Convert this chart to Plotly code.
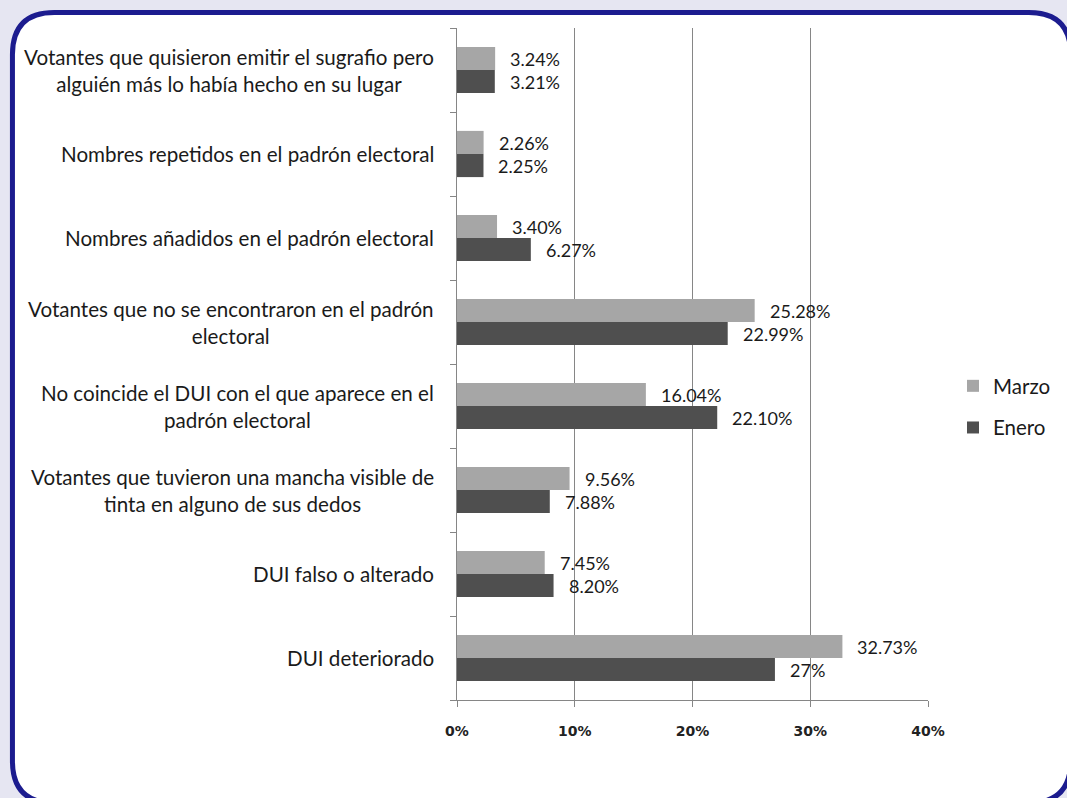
import plotly.graph_objects as go

categories = [
    "Votantes que quisieron emitir el sugrafio pero<br>alguién más lo había hecho en su lugar",
    "Nombres repetidos en el padrón electoral",
    "Nombres añadidos en el padrón electoral",
    "Votantes que no se encontraron en el padrón<br>electoral",
    "No coincide el DUI con el que aparece en el<br>padrón electoral",
    "Votantes que tuvieron una mancha visible de<br>tinta en alguno de sus dedos",
    "DUI falso o alterado",
    "DUI deteriorado",
]
marzo = [3.24, 2.26, 3.40, 25.28, 16.04, 9.56, 7.45, 32.73]
enero = [3.21, 2.25, 6.27, 22.99, 22.10, 7.88, 8.20, 27]
x_ticks = [0, 10, 20, 30, 40]
x_tick_text = ["0%", "10%", "20%", "30%", "40%"]

W, H = 1067, 798
L, R, T, B = 457, 929, 28, 700  # plot area in pixels


def px(xp):
    return (xp - L) / (R - L)


def py(yp):
    return (B - yp) / (B - T)


def fmt(v):
    return f"{int(v)}%" if float(v).is_integer() else f"{v:.2f}%"


C_MARZO = "#a6a6a6"
C_ENERO = "#4f4f4f"
LABEL_FONT = "Lato"

fig = go.Figure()
fig.add_trace(go.Bar(name="Enero", y=categories, x=enero, orientation="h",
                     marker=dict(color=C_ENERO, line=dict(width=0)),
                     legendgroup="e", legendrank=2))
fig.add_trace(go.Bar(name="Marzo", y=categories, x=marzo, orientation="h",
                     marker=dict(color=C_MARZO, line=dict(width=0)),
                     legendgroup="m", legendrank=1))

annotations = []
for c, v in zip(categories, marzo):
    annotations.append(dict(x=v, y=c, xref="x", yref="y", text=fmt(v), showarrow=False,
                            xanchor="left", yanchor="middle", xshift=13, yshift=11,
                            font=dict(family=LABEL_FONT, size=18, color="#1a1a1a")))
for c, v in zip(categories, enero):
    annotations.append(dict(x=v, y=c, xref="x", yref="y", text=fmt(v), showarrow=False,
                            xanchor="left", yanchor="middle", xshift=13, yshift=-12,
                            font=dict(family=LABEL_FONT, size=18, color="#1a1a1a")))
for c in categories:
    annotations.append(dict(x=px(436), y=c, xref="paper", yref="y", text=c, showarrow=False,
                            xanchor="right", yanchor="middle", align="center",
                            font=dict(family=LABEL_FONT, size=20.6, color="#1a1a1a")))

# rounded frame
x0, y0, x1, y1, r = 11.5, 12.5, 1072, 803, 42
path = (f"M {px(x0 + r)},{py(y0)} L {px(x1 - r)},{py(y0)} "
        f"Q {px(x1)},{py(y0)} {px(x1)},{py(y0 + r)} "
        f"L {px(x1)},{py(y1 - r)} Q {px(x1)},{py(y1)} {px(x1 - r)},{py(y1)} "
        f"L {px(x0 + r)},{py(y1)} Q {px(x0)},{py(y1)} {px(x0)},{py(y1 - r)} "
        f"L {px(x0)},{py(y0 + r)} Q {px(x0)},{py(y0)} {px(x0 + r)},{py(y0)} Z")

fig.update_layout(
    width=W, height=H,
    margin=dict(l=L, r=W - R, t=T, b=H - B, pad=0),
    paper_bgcolor="#e6e6f2",
    plot_bgcolor="rgba(0,0,0,0)",
    barmode="group", bargap=0.45, bargroupgap=0,
    showlegend=True,
    legend=dict(x=px(953), y=py(407), xanchor="left", yanchor="middle",
                traceorder="grouped", tracegroupgap=12,
                font=dict(family=LABEL_FONT, size=20.5, color="#1a1a1a"),
                bgcolor="rgba(0,0,0,0)", itemwidth=30, borderwidth=0),
    annotations=annotations,
    shapes=[dict(type="path", xref="paper", yref="paper", path=path,
                 fillcolor="white", line=dict(color="#1c1c8f", width=5), layer="below")],
    xaxis=dict(range=[0, 40], tickvals=x_ticks, ticktext=x_tick_text,
               showgrid=True, gridcolor="#868686", gridwidth=1,
               showline=True, linecolor="#868686", linewidth=1,
               ticks="outside", ticklen=6, tickcolor="#868686",
               ticklabelstandoff=12, zeroline=False,
               tickfont=dict(family="DejaVu Sans", size=14, color="#222222", weight="bold")),
    yaxis=dict(categoryorder="array", categoryarray=categories[::-1],
               showticklabels=False, showgrid=False,
               showline=True, linecolor="#868686", linewidth=1,
               ticks="outside", ticklen=6, tickcolor="#868686", tickson="boundaries"),
)

fig.write_html("out.html", config={"displayModeBar": False},
               post_script="document.body.style.margin='0';document.body.style.overflow='hidden';")
